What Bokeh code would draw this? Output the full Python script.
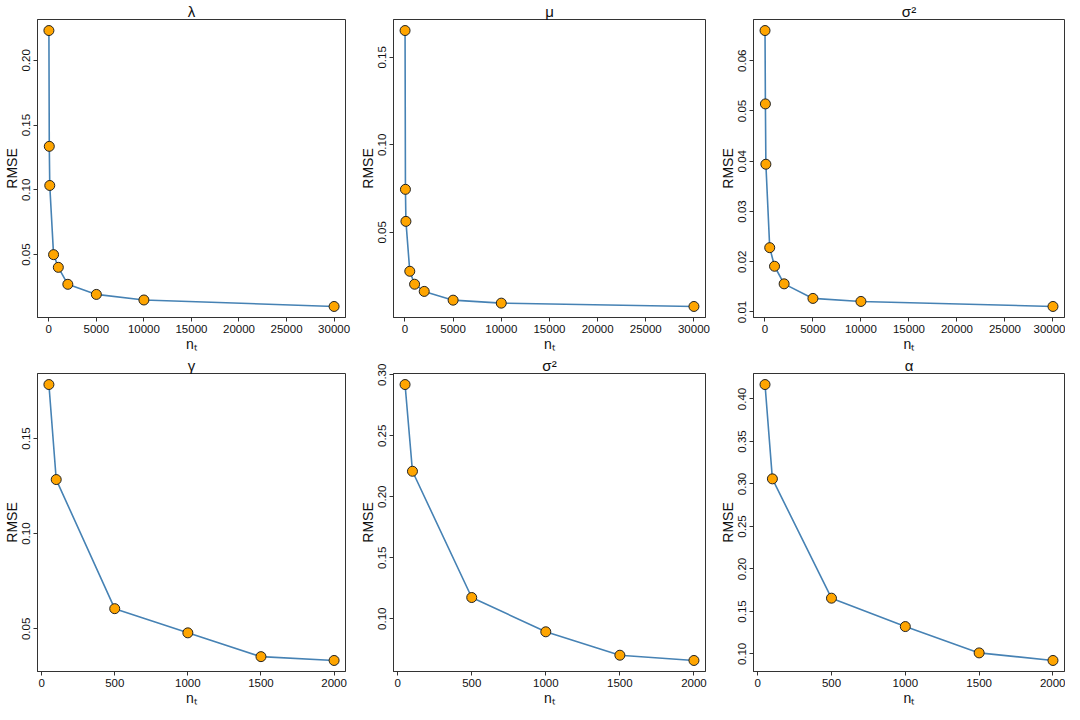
from bokeh.plotting import figure
from bokeh.layouts import gridplot
from bokeh.models import FixedTicker, PrintfTickFormatter, Range1d, Title
from bokeh.embed import file_html
from bokeh.resources import INLINE

# ---- data ----
nt_top = [10, 50, 100, 500, 1000, 2000, 5000, 10000, 30000]
rmse_lambda = [0.2230, 0.1336, 0.1034, 0.0500, 0.0402, 0.0271, 0.0193, 0.0150, 0.0100]
rmse_mu = [0.1653, 0.0746, 0.0563, 0.0278, 0.0204, 0.0163, 0.0113, 0.0096, 0.0077]
rmse_sigma2_a = [0.0660, 0.0514, 0.0394, 0.0228, 0.0191, 0.0156, 0.0127, 0.0121, 0.0111]

nt_bottom = [50, 100, 500, 1000, 1500, 2000]
rmse_gamma = [0.1783, 0.1284, 0.0606, 0.0479, 0.0354, 0.0334]
rmse_sigma2_b = [0.2920, 0.2209, 0.1174, 0.0893, 0.0701, 0.0658]
rmse_alpha = [0.4170, 0.3060, 0.1656, 0.1322, 0.1012, 0.0923]

titles = ["λ", "μ", "σ²", "γ", "σ²", "α"]
xticks_top = [0, 5000, 10000, 15000, 20000, 25000, 30000]
xticks_bottom = [0, 500, 1000, 1500, 2000]
yticks = [
    [0.05, 0.10, 0.15, 0.20],
    [0.05, 0.10, 0.15],
    [0.01, 0.02, 0.03, 0.04, 0.05, 0.06],
    [0.05, 0.10, 0.15],
    [0.10, 0.15, 0.20, 0.25, 0.30],
    [0.10, 0.15, 0.20, 0.25, 0.30, 0.35, 0.40],
]
xlabel = "nₜ"
ylabel = "RMSE"

FONT = "Liberation Sans"
LINE_COLOR = "#4682B4"
PT_FILL = "#FFA500"
BOX = "#333333"

series = [
    (nt_top, rmse_lambda), (nt_top, rmse_mu), (nt_top, rmse_sigma2_a),
    (nt_bottom, rmse_gamma), (nt_bottom, rmse_sigma2_b), (nt_bottom, rmse_alpha),
]

col_fw = [308, 312, 311]
col_bl = [30, 40, 40]
col_br = [8, 8, 1]
row_fh = [298, 298]
row_bb = [30, 30]


def pad(vals):
    lo, hi = min(vals), max(vals)
    d = (hi - lo) * 0.04
    return lo - d, hi + d


figs = []
for i, (xs, ys) in enumerate(series):
    r, c = divmod(i, 3)
    x0, x1 = pad(xs)
    y0, y1 = pad(ys)
    p = figure(frame_width=col_fw[c], frame_height=row_fh[r], output_backend="svg",
               toolbar_location=None, x_range=Range1d(x0, x1), y_range=Range1d(y0, y1),
               min_border_left=col_bl[c], min_border_right=col_br[c],
               min_border_top=0, min_border_bottom=row_bb[r])
    p.add_layout(Title(text=titles[i], align="center", text_font=FONT,
                       text_font_size="15px", text_font_style="normal",
                       text_color="#111111", standoff=0), "above")
    p.xgrid.visible = False
    p.ygrid.visible = False
    p.outline_line_color = BOX
    p.outline_line_width = 1
    p.outline_line_alpha = 1
    p.background_fill_color = "white"
    p.border_fill_color = "white"

    p.line(xs, ys, line_color=LINE_COLOR, line_width=1.6)
    p.scatter(xs, ys, size=10, fill_color=PT_FILL, line_color="#222222", line_width=1)

    p.xaxis.ticker = FixedTicker(ticks=xticks_top if r == 0 else xticks_bottom)
    p.xaxis.formatter = PrintfTickFormatter(format="%d")
    p.yaxis.ticker = FixedTicker(ticks=yticks[i])
    p.yaxis.formatter = PrintfTickFormatter(format="%.2f")
    p.yaxis.major_label_orientation = "vertical"
    p.xaxis.axis_label = xlabel
    p.yaxis.axis_label = ylabel
    for ax in (p.xaxis[0], p.yaxis[0]):
        ax.axis_line_color = BOX
        ax.major_tick_line_color = BOX
        ax.major_tick_out = 4
        ax.major_tick_in = 0
        ax.minor_tick_line_color = None
        ax.major_label_text_font = FONT
        ax.major_label_text_font_size = "11.5px"
        ax.major_label_text_color = "#111111"
        ax.major_label_standoff = 3
        ax.axis_label_text_font = FONT
        ax.axis_label_text_font_size = "14px"
        ax.axis_label_text_font_style = "normal"
        ax.axis_label_text_color = "#111111"
        ax.axis_label_standoff = 0
    figs.append(p)

grid = gridplot([figs[0:3], figs[3:6]], toolbar_location=None)
open("out.html", "w").write(file_html(grid, INLINE))
